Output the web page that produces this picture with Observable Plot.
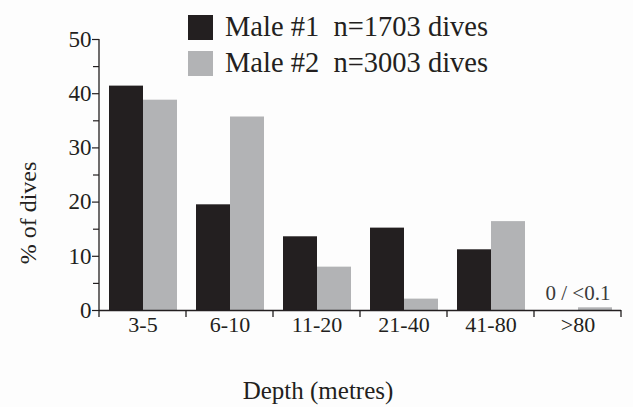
<!DOCTYPE html>
<html><head><meta charset="utf-8">
<script src="https://cdn.jsdelivr.net/npm/d3@7"></script>
<script src="https://cdn.jsdelivr.net/npm/@observablehq/plot@0.6"></script>
<style>
body{margin:0;background:#fdfdfd;}
#wrap{position:relative;width:633px;height:407px;font-family:"Liberation Serif","Times New Roman",serif;color:#231f20;}
#wrap svg, #wrap svg text{font-family:"Liberation Serif","Times New Roman",serif !important;}
.leg{position:absolute;left:188px;display:flex;align-items:center;white-space:pre;font-size:28.5px;line-height:1;}
.leg .sw{width:25px;height:25px;margin-right:12px;}
</style></head><body><div id="wrap"></div>
<script>
const depths = ["3-5", "6-10", "11-20", "21-40", "41-80", ">80"];
const seriesNames = ["Male #1", "Male #2"];
const sampleSizes = ["n=1703 dives", "n=3003 dives"];
const male1 = [41.4, 19.5, 13.6, 15.2, 11.2, 0];
const male2 = [38.8, 35.7, 8.0, 2.1, 16.4, 0.5];
const yTicks = [0, 10, 20, 30, 40, 50];
const yMinorTicks = [5, 15, 25, 35, 45];
const annotations = [{depth: ">80", label: "0 / <0.1"}];
const colors = ["#231f20", "#b2b3b5"];
const yLabel = "% of dives";
const xLabel = "Depth (metres)";

const data = depths.flatMap((d, i) => [
  {depth: d, series: seriesNames[0], value: male1[i]},
  {depth: d, series: seriesNames[1], value: male2[i]}
]);

const plot = Plot.plot({
  width: 633, height: 407,
  marginLeft: 97, marginRight: 10, marginTop: 39, marginBottom: 97,
  style: {background: "transparent", color: "#231f20"},
  fx: {domain: depths, padding: 0, label: null, axis: null},
  x: {domain: seriesNames, paddingInner: 0, paddingOuter: 0.25, axis: null},
  y: {domain: [0, 50], axis: null},
  color: {domain: seriesNames, range: colors},
  marks: [
    Plot.barY(data, {fx: "depth", x: "series", y: "value", fill: "series"}),
    Plot.ruleY([0], {stroke: "#231f20", strokeWidth: 1.3}),
    Plot.axisY(yTicks, {tickSize: 7, tickPadding: 1, fontSize: 23, label: null, stroke: "#231f20", strokeWidth: 1.2}),
    Plot.axisY(yMinorTicks, {tickSize: 6, tickFormat: () => "", label: null, stroke: "#231f20", strokeWidth: 1.2}),
    Plot.axisFx({anchor: "bottom", tickSize: 0, tickPadding: 6, fontSize: 22, label: null}),
    Plot.text(annotations, {fx: "depth", y: 0, text: "label", lineAnchor: "bottom", dy: -11, fontSize: 21, fill: "#3a3a3a"})
  ]
});

const wrap = document.getElementById("wrap");
wrap.appendChild(plot);
const svg = d3.select(plot);
const fx = plot.scale("fx"), y = plot.scale("y");
const x0 = fx.apply(depths[0]);
const bounds = depths.map(d => fx.apply(d)).concat([fx.apply(depths[depths.length - 1]) + fx.step]);
const y0 = y.apply(0), yTop = y.apply(50);
const g = svg.append("g").attr("stroke", "#231f20").attr("stroke-width", 1.3);
g.append("line").attr("x1", x0).attr("x2", x0).attr("y1", y0).attr("y2", yTop);
bounds.forEach(b => g.append("line").attr("x1", b).attr("x2", b).attr("y1", y0).attr("y2", y0 + 7));
svg.append("text").attr("transform", `translate(36,213) rotate(-90)`).attr("text-anchor", "middle")
  .attr("font-size", 24).attr("fill", "#231f20").text(yLabel);
svg.append("text").attr("x", 318).attr("y", 399).attr("text-anchor", "middle")
  .attr("font-size", 25).attr("fill", "#231f20").text(xLabel);

seriesNames.forEach((s, i) => {
  const row = document.createElement("div");
  row.className = "leg";
  row.style.top = (13 + i * 36) + "px";
  row.innerHTML = `<div class="sw" style="background:${colors[i]}"></div><span>${s}  ${sampleSizes[i]}</span>`;
  wrap.appendChild(row);
});
</script></body></html>
